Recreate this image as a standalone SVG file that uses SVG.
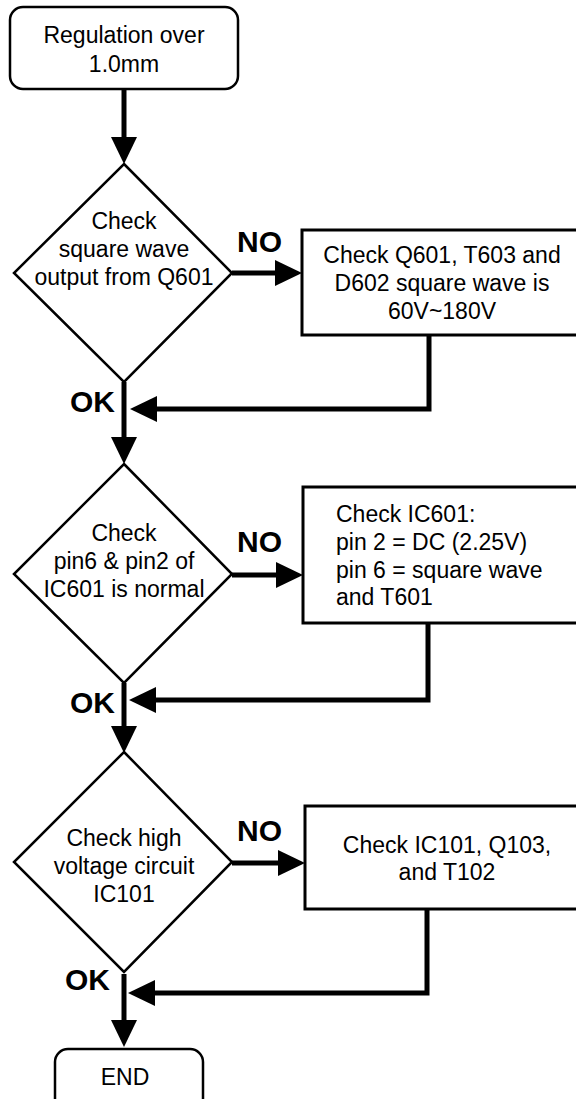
<svg xmlns="http://www.w3.org/2000/svg" width="576" height="1099" viewBox="0 0 576 1099">
  <style>
    .shape { fill: #fff; stroke: #000; stroke-width: 2.5; }
    .box { fill: #fff; stroke: #000; stroke-width: 3; }
    .t { font-family: "Liberation Sans", Arial, sans-serif; font-size: 23px; fill: #000; }
    .c { text-anchor: middle; }
    .lbl { font-family: "Liberation Sans", Arial, sans-serif; font-size: 30px; font-weight: bold; fill: #000; }
    .conn { fill: none; stroke: #000; stroke-width: 5; marker-end: url(#arrow); }
  </style>
  <defs>
    <marker id="arrow" markerUnits="userSpaceOnUse" viewBox="0 -13 27 26" refX="0" refY="0" markerWidth="27" markerHeight="26" orient="auto" overflow="visible">
      <path d="M0,-13 L27,0 L0,13 Z" fill="#000"/>
    </marker>
  </defs>
  <rect width="576" height="1099" fill="#fff"/>

  <g id="connectors">
    <path class="conn" d="M124,89 V137"/>
    <path class="conn" d="M232,273 H275"/>
    <path class="conn" d="M429,335 V409 H157"/>
    <path class="conn" d="M124,382 V437"/>
    <path class="conn" d="M232,575 H276"/>
    <path class="conn" d="M428,623 V700 H156"/>
    <path class="conn" d="M124,683 V726"/>
    <path class="conn" d="M232,863 H278"/>
    <path class="conn" d="M427,909 V993 H155"/>
    <path class="conn" d="M124,974 V1020"/>
  </g>

  <g id="start">
    <rect class="shape" x="10" y="7" width="228" height="82" rx="13"/>
    <text class="t c" x="124" y="43">Regulation over</text>
    <text class="t c" x="124" y="72">1.0mm</text>
  </g>

  <g id="decision1">
    <polygon class="shape" points="124,164 232,273 124,382 14,273"/>
    <text class="t c" x="124" y="229">Check</text>
    <text class="t c" x="124" y="257">square wave</text>
    <text class="t c" x="124" y="285">output from Q601</text>
  </g>

  <g id="box1">
    <rect class="box" x="302" y="230" width="290" height="105"/>
    <text class="t c" x="442" y="263">Check Q601, T603 and</text>
    <text class="t c" x="442" y="291">D602 square wave is</text>
    <text class="t c" x="442" y="319">60V~180V</text>
  </g>

  <g id="decision2">
    <polygon class="shape" points="124,464 232,574 124,683 14,574"/>
    <text class="t c" x="124" y="541">Check</text>
    <text class="t c" x="124" y="569">pin6 &amp; pin2 of</text>
    <text class="t c" x="124" y="597">IC601 is normal</text>
  </g>

  <g id="box2">
    <rect class="box" x="303" y="487" width="290" height="136"/>
    <text class="t" x="336" y="522">Check IC601:</text>
    <text class="t" x="336" y="550">pin 2 = DC (2.25V)</text>
    <text class="t" x="336" y="578">pin 6 = square wave</text>
    <text class="t" x="336" y="605">and T601</text>
  </g>

  <g id="decision3">
    <polygon class="shape" points="124,752 232,862 124,972 14,862"/>
    <text class="t c" x="124" y="846">Check high</text>
    <text class="t c" x="124" y="874">voltage circuit</text>
    <text class="t c" x="124" y="902">IC101</text>
  </g>

  <g id="box3">
    <rect class="box" x="305" y="806" width="290" height="103"/>
    <text class="t c" x="447" y="853">Check IC101, Q103,</text>
    <text class="t c" x="447" y="880">and T102</text>
  </g>

  <g id="end">
    <rect class="shape" x="55" y="1049" width="148" height="70" rx="13"/>
    <text class="t c" x="125" y="1085">END</text>
  </g>

  <g id="labels">
    <text class="lbl" x="237" y="252">NO</text>
    <text class="lbl" x="70" y="412">OK</text>
    <text class="lbl" x="237" y="552">NO</text>
    <text class="lbl" x="70" y="713">OK</text>
    <text class="lbl" x="237" y="841">NO</text>
    <text class="lbl" x="65" y="990">OK</text>
  </g>
</svg>
